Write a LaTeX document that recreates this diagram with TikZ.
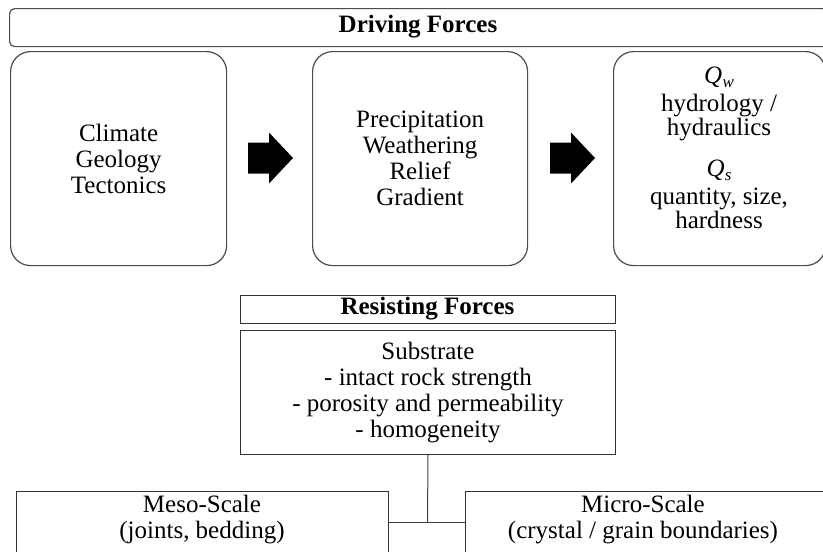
\documentclass[tikz,border=0pt]{standalone}
\usepackage{fontspec}
\setmainfont{Liberation Serif}
\usetikzlibrary{calc}
\newcommand{\qsym}[1]{{\itshape Q\kern0.3pt\smash{\raisebox{-0.35ex}{\fontsize{17}{17}\selectfont #1}}}}
\begin{document}
\begin{tikzpicture}[x=1pt,y=-1pt,
  rbox/.style={draw=black!70, line width=1.2pt, rounded corners=20pt, inner sep=0pt, anchor=north west},
  tbox/.style={draw=black!70, line width=1.2pt, rounded corners=5pt, inner sep=0pt, anchor=north west},
  sbox/.style={draw=black!80, line width=1pt, inner sep=0pt, anchor=north west},
  txt/.style={align=center, font=\fontsize{25}{26}\selectfont, inner sep=0pt},
  btxt/.style={font=\fontsize{25}{26}\selectfont\bfseries, inner sep=0pt},
  conn/.style={draw=black!75, line width=1pt}]
\useasboundingbox (0,0) rectangle (823,552);
\clip (0,0) rectangle (823,552);
% Driving forces
\node[tbox, minimum width=818, minimum height=38] (drv) at (9,8) {};
\node[btxt] (drvt) at (418,27) {Driving Forces};
\node[rbox, minimum width=216, minimum height=214] (b1) at (10,51) {};
\node[rbox, minimum width=215, minimum height=214] (b2) at (312,51) {};
\node[rbox, minimum width=212, minimum height=214] (b3) at (613,51) {};
\node[txt] (t1) at (b1.center) {Climate\\Geology\\Tectonics};
\node[txt] (t2) at (b2.center) {Precipitation\\Weathering\\Relief\\Gradient};
\node[txt, font=\fontsize{25}{24}\selectfont] (t3) at (719,148) {\qsym{w}\\[4pt]hydrology /\\hydraulics\\[17pt]\qsym{s}\\[4pt]quantity, size,\\hardness};
% block arrows
\coordinate (a1) at (248,158);
\coordinate (a2) at (550,158);
\foreach \a in {a1,a2}{
  \fill[black] ($(\a)+(0,-15.5)$) -- ++(21,0) -- ++(0,-10) -- ($(\a)+(45,0)$) -- ($(\a)+(21,25.5)$) -- ++(0,-10) -- ($(\a)+(0,15.5)$) -- cycle;
}
% Resisting forces
\node[sbox, minimum width=375, minimum height=28] (res) at (240,295) {};
\node[btxt] (rest) at (427.5,309) {Resisting Forces};
\node[sbox, minimum width=375, minimum height=124] (sub) at (240,330) {};
\node[txt] (subt) at (sub.center) {Substrate\\- intact rock strength\\- porosity and permeability\\- homogeneity};
\node[sbox, minimum width=372, minimum height=120] (meso) at (16,491) {};
\node[sbox, minimum width=361, minimum height=120] (micro) at (465,491) {};
\node[txt] (mesot) at (202,519.5) {Meso-Scale\\(joints, bedding)};
\node[txt] (microt) at (643,519.5) {Micro-Scale\\(crystal / grain boundaries)};
\coordinate (j) at (427.5,522);
\draw[conn] (sub.south) -- (j);
\draw[conn] (meso.east |- j) -- (micro.west |- j);
\end{tikzpicture}
\end{document}
